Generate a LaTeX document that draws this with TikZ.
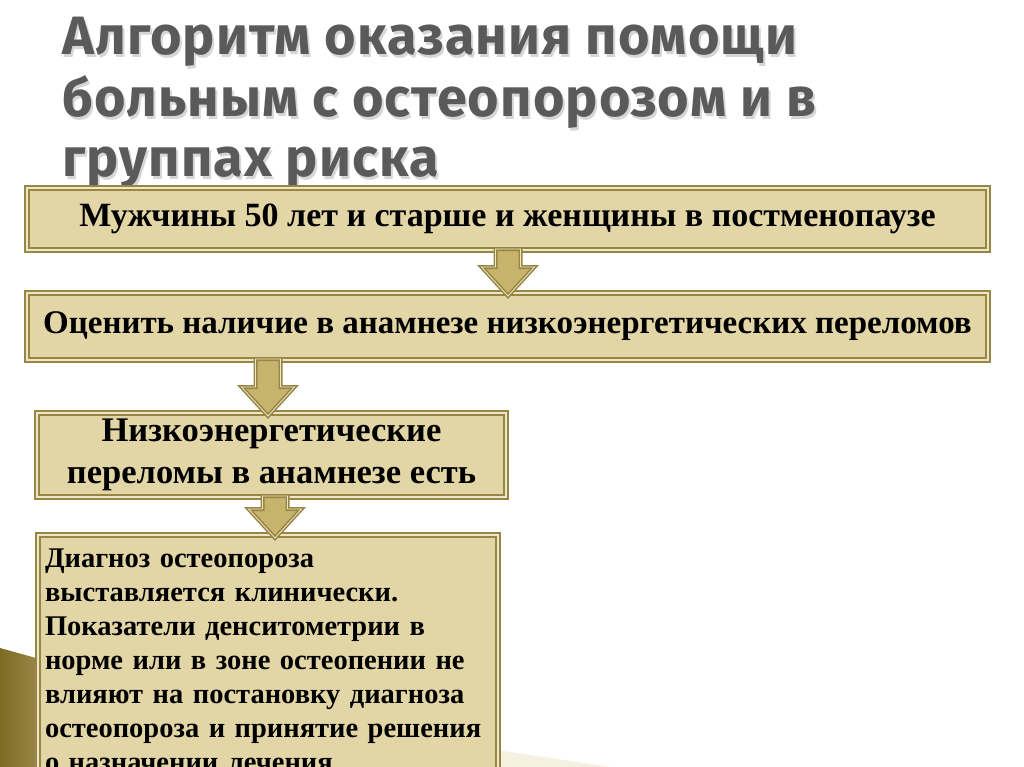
\documentclass[tikz,border=0pt]{standalone}
\usepackage{fontspec}
\setmainfont{Liberation Serif}
\newfontfamily\titlefont[LetterSpace=2]{Fira Sans}
\usepackage{xcolor}
\usetikzlibrary{calc,positioning}
\definecolor{algoolive}{HTML}{978646}
\definecolor{algolight}{HTML}{EFE6C4}
\definecolor{algofill}{HTML}{E3D6A6}
\definecolor{algoarrow}{HTML}{C6B46C}
\definecolor{algogray}{HTML}{5A5A5A}
\definecolor{algodark}{HTML}{7D6B22}
\tikzset{
  stepbox/.style={rectangle,draw=algoolive,double=algolight,double distance=1.2pt,line width=2pt,fill=algofill,align=center,font=\bfseries\fontsize{34}{40}\selectfont,inner sep=0pt},
  notebox/.style={stepbox,align=left,anchor=north west,inner xsep=7pt,inner ysep=4pt,font=\bfseries\fontsize{28.5}{34}\selectfont},
  blockarr/.style={draw=algoolive,double=algolight,double distance=0.8pt,line width=1.6pt,fill=algoarrow,line join=miter},
  headline/.style={anchor=base west,font=\titlefont\bfseries\fontsize{54}{62}\selectfont,inner sep=0pt}
}
% block arrow from one box down to the next
\newcommand{\blockarrow}[3]{%
  \path (#2.south -| {#1},0) coordinate (t) (#3.north -| {#1},0) coordinate (b);
  \draw[blockarr] ($(t)+(-12.5,-2)$) -- ($(t)+(12.5,-2)$) -- ($(b)+(12.5,-25)$) -- ($(b)+(26.5,-25)$)
    -- ($(b)+(0,4)$) -- ($(b)+(-26.5,-25)$) -- ($(b)+(-12.5,-25)$) -- cycle;
}
\begin{document}
\begin{tikzpicture}[x=1pt,y=-1pt]
\useasboundingbox (0,0) rectangle (1024,767);
\fill[white] (0,0) rectangle (1024,767);
% corner decoration
\shade[left color=algodark,right color=algoolive] (0,648) -- (36,658) -- (36,767) -- (0,767) -- cycle;
\fill[algofill,opacity=0.35] (497,750) -- (610,767) -- (497,767) -- cycle;
% title with its shadow
\begin{scope}[opacity=0.35]
\foreach \ln/\yy in {0/55,1/117,2/177} {
  \ifcase\ln \def\txt{Алгоритм оказания помощи}\or \def\txt{больным с остеопорозом и в}\or \def\txt{группах риска}\fi
  \node[headline,text=black!45] at (64,\yy+3) {\txt};
}
\end{scope}
\node[headline,text=algogray] (t1) at (62,55) {Алгоритм оказания помощи};
\node[headline,text=algogray] (t2) at (62,117) {больным с остеопорозом и в};
\node[headline,text=algogray] (t3) at (62,177) {группах риска};
% boxes
\node[stepbox,minimum width=961,minimum height=62] (men) at (507.5,219) {Мужчины 50 лет и старше и женщины в постменопаузе};
\node[stepbox,minimum width=961,minimum height=67,font=\bfseries\fontsize{33}{40}\selectfont] (check) at (507.5,326.5) {Оценить наличие в анамнезе низкоэнергетических переломов};
\node[stepbox,minimum width=469,minimum height=84,font=\bfseries\fontsize{34.5}{42}\selectfont] (yes) at (271.5,455) {Низкоэнергетические\\переломы в анамнезе есть};
\node[notebox,text width=446,minimum width=460,minimum height=250] (diag) at (37,534) {Диагноз остеопороза\\выставляется клинически.\\Показатели денситометрии в\\норме или в зоне остеопении не\\влияют на постановку диагноза\\остеопороза и принятие решения\\о назначении лечения};
% arrows
\blockarrow{508}{men}{check}
\blockarrow{268}{check}{yes}
\blockarrow{275}{yes}{diag}
\end{tikzpicture}
\end{document}
